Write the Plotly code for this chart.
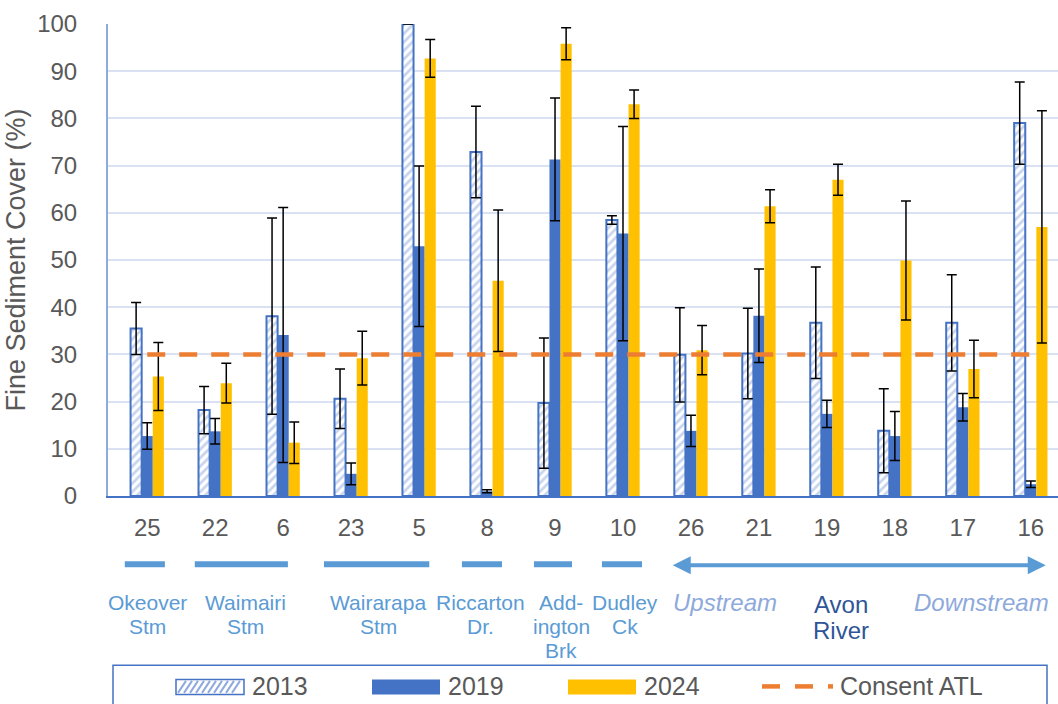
import plotly.graph_objects as go

# Fine sediment cover (%) by site, mean and error for three survey years
sites = ["25", "22", "6", "23", "5", "8", "9", "10", "26", "21", "19", "18", "17", "16"]

cover_2013 = [35.5, 18.2, 38.1, 20.6, 100.0, 72.9, 19.7, 58.5, 29.9, 30.2, 36.7, 13.8, 36.7, 79.0]
err_2013 = [5.5, 5.0, 20.8, 6.3, 0.0, 9.7, 13.8, 0.9, 10.0, 9.6, 11.8, 8.9, 10.2, 8.7]

cover_2019 = [12.7, 13.7, 34.1, 4.7, 52.9, 1.0, 71.3, 55.6, 13.8, 38.2, 17.4, 12.7, 18.8, 2.5]
err_2019 = [2.8, 2.7, 27.0, 2.3, 17.0, 0.3, 13.0, 22.7, 3.3, 9.9, 2.9, 5.2, 2.9, 0.7]

cover_2024 = [25.3, 23.9, 11.3, 29.2, 92.7, 45.6, 95.8, 83.0, 30.9, 61.4, 67.0, 49.9, 26.9, 57.0]
err_2024 = [7.2, 4.2, 4.4, 5.7, 4.0, 15.0, 3.4, 3.0, 5.2, 3.5, 3.3, 12.6, 6.1, 24.6]

consent_atl = 30

# Waterway groupings shown under the site numbers: (label, segment start, segment end, label centre)
tributaries = [
    ("Okeover<br>Stm", -0.33, 0.26, 0.01),
    ("Waimairi<br>Stm", 0.70, 2.07, 1.44),
    ("Wairarapa<br>Stm", 2.60, 4.15, 3.40),
    ("Riccarton<br>Dr.", 4.63, 5.22, 4.91),
    ("Add-<br>ington<br>Brk", 5.69, 6.25, 6.09),
    ("Dudley<br>Ck", 6.69, 7.28, 7.03),
]
river_span = (7.71, 13.22)

FONT = "Liberation Sans, Arial, sans-serif"
GREY = "#595959"
LABEL_BLUE = "#5B9BD5"
C2013_EDGE = "#4472C4"
C2013_HATCH = "#8FAADC"
C2019 = "#4472C4"
C2024 = "#FFC000"
C_ATL = "#ED7D31"

W, H = 1058, 704
LEFT = 108
PLOT_W = W - LEFT
PLOT_TOP, PLOT_BOTTOM = 24, 495
PLOT_H = PLOT_BOTTOM - PLOT_TOP


def py(pixel_y):
    """Page pixel row -> paper y."""
    return (PLOT_BOTTOM - pixel_y) / PLOT_H


def px(pixel_x):
    """Page pixel column -> paper x."""
    return (pixel_x - LEFT) / PLOT_W


pos = list(range(len(sites)))

err_style = dict(type="data", visible=True, color="black", thickness=1.5, width=5)

fig = go.Figure()
fig.add_trace(go.Bar(
    x=pos, y=cover_2013, name="2013",
    marker=dict(color="white", line=dict(color=C2013_EDGE, width=2),
                pattern=dict(shape="/", fgcolor=C2013_HATCH, bgcolor="white", size=6, solidity=0.45)),
    error_y=dict(array=err_2013, **err_style),
))
fig.add_trace(go.Bar(
    x=pos, y=cover_2019, name="2019",
    marker=dict(color=C2019, line=dict(width=0)),
    error_y=dict(array=err_2019, **err_style),
))
fig.add_trace(go.Bar(
    x=pos, y=cover_2024, name="2024",
    marker=dict(color=C2024, line=dict(width=0)),
    error_y=dict(array=err_2024, **err_style),
))
fig.add_trace(go.Scatter(
    x=pos, y=[consent_atl] * len(pos), name="Consent ATL", mode="lines",
    line=dict(color=C_ATL, width=4.5, dash="18px,14px"),
))

shapes = []
annotations = []

# Tributary bars and labels
for label, x0, x1, xc in tributaries:
    shapes.append(dict(type="line", xref="x", yref="paper", x0=x0, x1=x1, y0=py(563), y1=py(563),
                       line=dict(color=LABEL_BLUE, width=6)))
    for i, line in enumerate(label.split("<br>")):
        annotations.append(dict(xref="x", yref="paper", x=xc, y=py(601 + 24 * i), text=line,
                                showarrow=False, xanchor="center", yanchor="middle",
                                font=dict(family=FONT, size=21, color=LABEL_BLUE)))

# Main river: double-headed arrow from upstream to downstream
annotations.append(dict(xref="x", yref="paper", axref="x", ayref="pixel",
                        x=river_span[1], y=py(564), ax=river_span[0], ay=0, text="",
                        showarrow=True, arrowhead=2, startarrowhead=2, arrowside="end+start",
                        arrowsize=0.9, startarrowsize=0.9, arrowwidth=4, arrowcolor=LABEL_BLUE))
for text, xc in [("<i>Upstream</i>", 8.50), ("<i>Downstream</i>", 12.27)]:
    annotations.append(dict(xref="x", yref="paper", x=xc, y=py(601), text=text, showarrow=False,
                            font=dict(family=FONT, size=24, color="#8EA9DB"),
                            xanchor="center", yanchor="middle"))
for i, line in enumerate(["Avon", "River"]):
    annotations.append(dict(xref="x", yref="paper", x=10.21, y=py(603 + 26 * i), text=line, showarrow=False,
                            font=dict(family=FONT, size=24, color="#2F5597"),
                            xanchor="center", yanchor="middle"))

# Legend frame and keys
shapes.append(dict(type="rect", xref="paper", yref="paper", x0=px(113), x1=px(1047), y0=py(664), y1=py(740),
                   line=dict(color="#4472C4", width=1.5), fillcolor="rgba(0,0,0,0)"))

key_top, key_bot = 678, 693
legend_row = 685


def key_rect(x0, x1, fill, edge=None):
    shapes.append(dict(type="rect", xref="paper", yref="paper", x0=px(x0), x1=px(x1),
                       y0=py(key_bot), y1=py(key_top), fillcolor=fill,
                       line=dict(color=edge or fill, width=1.5 if edge else 0)))


# hatched key for 2013
key_rect(176, 244, "white", C2013_EDGE)
hatch = []
step, slant = 6, 8
x = 178
while x + slant <= 243:
    hatch.append(f"M{px(x)},{py(key_bot - 1.5)} L{px(x + slant)},{py(key_top + 1.5)}")
    x += step
shapes.append(dict(type="path", xref="paper", yref="paper", path=" ".join(hatch),
                   line=dict(color=C2013_HATCH, width=2)))
key_rect(372, 440, C2019)
key_rect(568, 636, C2024)
for a, b in [(762, 780), (795, 813)]:
    shapes.append(dict(type="line", xref="paper", yref="paper", x0=px(a), x1=px(b),
                       y0=py(legend_row), y1=py(legend_row), line=dict(color=C_ATL, width=4.5)))
shapes.append(dict(type="line", xref="paper", yref="paper", x0=px(828), x1=px(833),
                   y0=py(legend_row), y1=py(legend_row), line=dict(color=C_ATL, width=4.5)))

for text, xl in [("2013", 250), ("2019", 446), ("2024", 642), ("Consent ATL", 838)]:
    annotations.append(dict(xref="paper", yref="paper", x=px(xl), y=py(legend_row), text=text,
                            showarrow=False, xanchor="left", yanchor="middle",
                            font=dict(family=FONT, size=25, color=GREY)))

fig.update_layout(
    width=W, height=H,
    margin=dict(l=LEFT, r=0, t=PLOT_TOP, b=H - PLOT_BOTTOM - 1, pad=0),
    paper_bgcolor="white", plot_bgcolor="white",
    font=dict(family=FONT, color=GREY),
    barmode="group", bargap=0.51, bargroupgap=0,
    showlegend=False,
    xaxis=dict(type="linear", range=[-0.577, 13.4], tickvals=pos, ticktext=sites,
               showgrid=False, zeroline=False, showline=True, linecolor="#4472C4", linewidth=2,
               ticks="", ticklabelstandoff=9, tickfont=dict(family=FONT, size=24, color=GREY)),
    yaxis=dict(range=[0, 100], dtick=10, showgrid=True, gridcolor="#D9E1F2", gridwidth=2,
               zeroline=False, showline=True, linecolor="#8FAADC", linewidth=2,
               ticks="", ticklabelstandoff=24, tickfont=dict(family=FONT, size=24, color=GREY),
               title=dict(text="Fine Sediment Cover (%)", standoff=4,
                          font=dict(family=FONT, size=27, color=GREY))),
    shapes=shapes,
    annotations=annotations,
)

fig.write_html("out.html")
